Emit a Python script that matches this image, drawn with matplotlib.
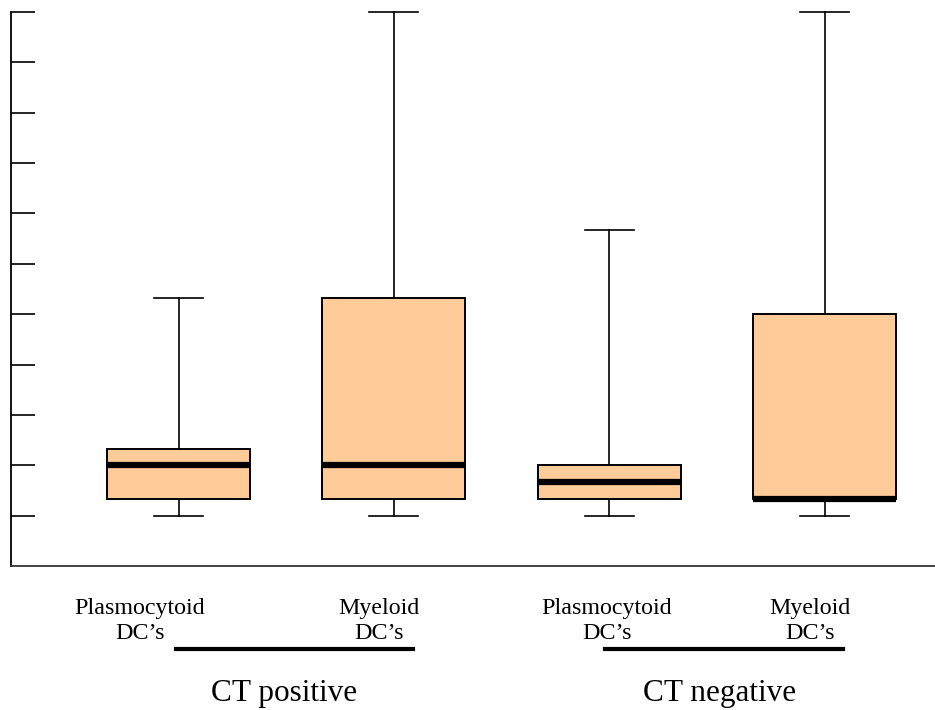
import matplotlib.pyplot as plt
from matplotlib.lines import Line2D

plt.rcParams['font.family'] = ['Liberation Serif', 'DejaVu Serif']

# box statistics for the four DC groups
groups = ["Plasmocytoid\nDC\u2019s", "Myeloid\nDC\u2019s", "Plasmocytoid\nDC\u2019s", "Myeloid\nDC\u2019s"]
whislo = [1.0, 1.0, 1.0, 1.0]
q1 = [1.33, 1.33, 1.33, 1.33]
med = [2.0, 2.0, 1.67, 1.33]
q3 = [2.33, 5.33, 2.0, 5.0]
whishi = [5.33, 11.0, 6.67, 11.0]
conditions = ["CT positive", "CT negative"]
yticks = list(range(1, 12))

W, H = 935, 710
fig = plt.figure(figsize=(W / 100, H / 100), dpi=100)
ax = fig.add_axes([11 / W, 1 - 566 / H, 1 - 11 / W, (566 - 12) / H])

stats = []
for i in range(len(groups)):
    stats.append(dict(whislo=whislo[i], q1=q1[i], med=med[i], q3=q3[i], whishi=whishi[i], fliers=[]))

pos = [1, 2, 3, 4]
ax.bxp(stats, positions=pos, widths=0.664, capwidths=0.228, patch_artist=True,
       showfliers=False,
       boxprops=dict(facecolor='#FFCC99', edgecolor='black', linewidth=1.4),
       medianprops=dict(color='black', linewidth=4.5, solid_capstyle='butt'),
       whiskerprops=dict(color='black', linewidth=1.2),
       capprops=dict(color='black', linewidth=1.2))
for art in ax.get_children():
    if isinstance(art, Line2D):
        art.set_clip_on(False)

ax.set_xlim(0.222, 4.513)
ax.set_ylim(0, 11)
ax.set_yticks(yticks)
ax.set_yticklabels([])
ax.set_xticks([])
ax.tick_params(axis='y', direction='in', length=17, width=1.2, color='black')
ax.spines['top'].set_visible(False)
ax.spines['right'].set_visible(False)
ax.spines['left'].set_linewidth(1.3)
ax.spines['bottom'].set_linewidth(1.3)
ax.spines['bottom'].set_color('#333333')

# group labels under the axis
label_x = [140, 379, 607, 810]
for x, g in zip(label_x, groups):
    fig.text(x / W, 1 - 621 / H, g, ha='center', va='center', fontsize=17.3,
             linespacing=1.28, multialignment='center')

# condition bars and titles
bars = [(176, 413), (605, 843)]
cond_x = [284, 720]
for (x0, x1), cx, c in zip(bars, cond_x, conditions):
    fig.add_artist(Line2D([x0 / W, x1 / W], [1 - 649 / H, 1 - 649 / H],
                          color='black', linewidth=3, transform=fig.transFigure))
    fig.text(cx / W, 1 - 694 / H, c, ha='center', va='center', fontsize=22.5)

fig.savefig('out.png', dpi=100)
